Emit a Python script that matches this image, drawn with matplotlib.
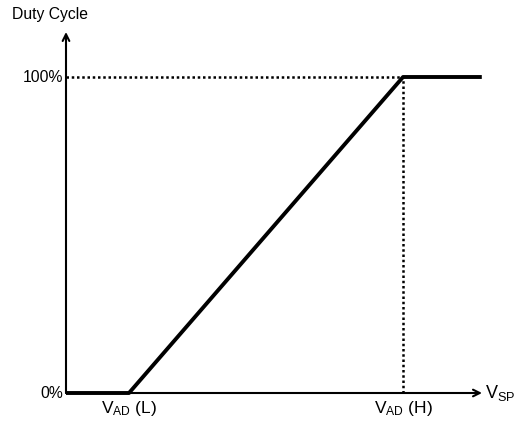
import matplotlib.pyplot as plt

plt.rcParams['font.family'] = ['Liberation Sans', 'DejaVu Sans']
plt.rcParams['mathtext.fontset'] = 'custom'
plt.rcParams['mathtext.rm'] = 'Liberation Sans'
plt.rcParams['mathtext.it'] = 'Liberation Sans'

# Curva de duty cycle frente a VSP (unidades relativas)
vsp = [0, 1.0, 5.35, 6.6]
duty = [0, 0, 100, 100]
v_ad_l = 1.0
v_ad_h = 5.35
y_ticks = [0, 100]
y_labels = ['0%', '100%']

W, H = 517, 421
X0, Y0 = 66, 393
fig = plt.figure(figsize=(W / 100, H / 100), dpi=100)
# ejes: origen en (X0, Y0) px
ax = fig.add_axes([X0 / W, (H - Y0) / H, (W - X0) / W, (Y0 - 20) / H])
px_x = 63.0
px_y = 3.16
ax.set_xlim(0, (W - X0) / px_x)
ax.set_ylim(0, (Y0 - 20) / px_y)
ax.axis('off')

x_end = (482 - X0) / px_x
y_end = (Y0 - 32) / px_y

# flechas de los ejes
for tip in [(x_end, 0), (0, y_end)]:
    ax.annotate('', xy=tip, xytext=(0, 0),
                arrowprops=dict(arrowstyle='->', lw=1.5, color='black',
                                mutation_scale=12, shrinkA=0, shrinkB=0),
                annotation_clip=False)

# lineas punteadas
ax.plot([0, v_ad_h], [100, 100], color='black', lw=1.8, ls=(0, (1, 1.1)),
        clip_on=False)
ax.plot([v_ad_h, v_ad_h], [0, 100], color='black', lw=1.8, ls=(0, (1, 1.1)),
        clip_on=False)

# curva
ax.plot(vsp, duty, color='black', lw=2.8, solid_capstyle='butt', clip_on=False)

fs = 11.3
for t, lab in zip(y_ticks, y_labels):
    ax.text(-3 / px_x, t, lab, ha='right', va='center', fontsize=fs)

ax.text((12 - X0) / px_x, (Y0 - 15) / px_y, 'Duty Cycle', ha='left',
        va='center', fontsize=fs)
ax.text(x_end + 3 / px_x, 0, r'$\mathregular{V_{SP}}$', ha='left',
        va='center', fontsize=13, clip_on=False)
ax.text(v_ad_l, -16 / px_y, r'$\mathregular{V_{AD}}$ (L)', ha='center',
        va='center', fontsize=12.5)
ax.text(v_ad_h, -16 / px_y, r'$\mathregular{V_{AD}}$ (H)', ha='center',
        va='center', fontsize=12.5)

fig.savefig('out.png', dpi=100, facecolor='white')
